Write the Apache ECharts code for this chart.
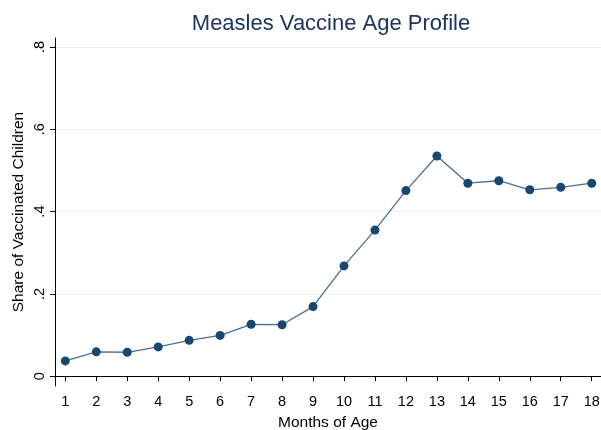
<!DOCTYPE html>
<html>
<head>
<meta charset="utf-8">
<script src="https://cdn.jsdelivr.net/npm/echarts@6/dist/echarts.min.js"></script>
<style>
  html, body { margin: 0; padding: 0; background: #fff; }
  #chart { width: 601px; height: 430px; }
</style>
</head>
<body>
<div id="chart"></div>
<script>
// months of age and share vaccinated
var months = [1, 2, 3, 4, 5, 6, 7, 8, 9, 10, 11, 12, 13, 14, 15, 16, 17, 18];
var shares = [0.037, 0.059, 0.058, 0.071, 0.087, 0.099, 0.126, 0.125, 0.169, 0.268,
              0.355, 0.451, 0.535, 0.469, 0.475, 0.453, 0.459, 0.469];
var yTicks = [0, 0.2, 0.4, 0.6, 0.8];

var myChart = echarts.init(document.getElementById('chart'));
var font = 'Liberation Sans, Arial, sans-serif';

var option = {
    animation: false,
    backgroundColor: '#fff',
    title: {
        text: 'Measles Vaccine Age Profile',
        left: 326,
        textAlign: 'center',
        top: 8,
        textStyle: {
            color: '#1f3461',
            fontFamily: font,
            fontSize: 22,
            fontWeight: 'normal'
        }
    },
    grid: {
        left: 55,
        right: 0,
        top: 38,
        bottom: 44,
        containLabel: false,
        outerBoundsMode: 'none'
    },
    xAxis: {
        type: 'value',
        min: 0.667,
        max: 18.3,
        name: 'Months of Age',
        nameLocation: 'middle',
        nameGap: 29,
        nameTextStyle: { color: '#000', fontFamily: font, fontSize: 15.5 },
        axisLine: { lineStyle: { color: '#000', width: 1 } },
        axisTick: { show: true, length: 5, customValues: months, lineStyle: { color: '#000' } },
        axisLabel: {
            customValues: months,
            color: '#000',
            fontFamily: font,
            fontSize: 14.5,
            margin: 8
        },
        splitLine: { show: false }
    },
    yAxis: {
        type: 'value',
        min: -0.024,
        max: 0.822,
        name: 'Share of Vaccinated Children',
        nameLocation: 'middle',
        nameRotate: 90,
        nameGap: 28,
        nameMoveOverlap: false,
        nameTextStyle: { color: '#000', fontFamily: font, fontSize: 15.5 },
        axisLine: { show: true, lineStyle: { color: '#000', width: 1 } },
        axisTick: { show: true, length: 5, customValues: yTicks, lineStyle: { color: '#000' } },
        axisLabel: {
            customValues: yTicks,
            rotate: 90,
            color: '#000',
            fontFamily: font,
            fontSize: 14.5,
            margin: 8,
            formatter: function (v) {
                if (v === 0) return '0';
                return String(Math.round(v * 10) / 10).replace(/^0/, '');
            }
        },
        splitLine: { show: true, lineStyle: { color: '#eaf2f3', width: 1 } }
    },
    series: [
        {
            type: 'line',
            data: months.map(function (m, i) { return [m, shares[i]]; }),
            symbol: 'circle',
            symbolSize: 9,
            lineStyle: { color: '#4a7090', width: 1.3 },
            itemStyle: { color: '#1a476f' }
        }
    ]
};
myChart.setOption(option);
</script>
</body>
</html>
